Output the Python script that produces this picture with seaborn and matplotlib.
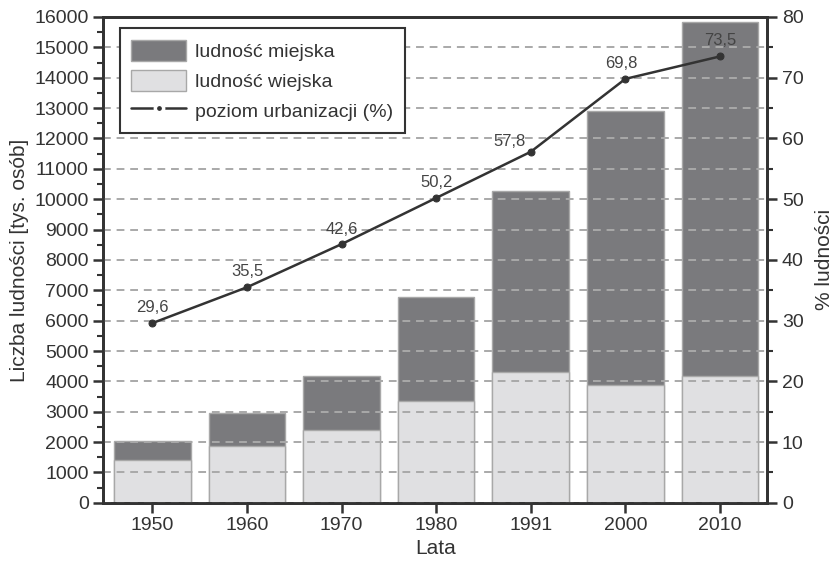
import numpy as np
import matplotlib
matplotlib.use("Agg")
import matplotlib.pyplot as plt
import seaborn as sns
from matplotlib.patches import Patch
from matplotlib.lines import Line2D
from matplotlib.ticker import MultipleLocator

# data
years = ["1950", "1960", "1970", "1980", "1991", "2000", "2010"]
rural = [1420, 1870, 2390, 3360, 4300, 3890, 4190]      # ludność wiejska
urban = [620, 1080, 1800, 3410, 5960, 9000, 11660]      # ludność miejska
urban_pct = [29.6, 35.5, 42.6, 50.2, 57.8, 69.8, 73.5]  # poziom urbanizacji

# label offsets (points) for the percentage annotations
label_offsets = [(0, 6), (0, 6), (0, 5), (0, 6), (-15, 2), (-3, 6), (0, 6)]

URBAN_COLOR = "#7a7a7d"
RURAL_COLOR = "#e0e0e2"
EDGE_COLOR = "#a8a8a8"
DARK = "#333333"

sns.set_theme(style="ticks")
plt.rcParams["font.family"] = ["Liberation Sans", "DejaVu Sans"]

total = [r + u for r, u in zip(rural, urban)]
x = np.arange(len(years))

fig = plt.figure(figsize=(8.33, 5.65), dpi=100)
ax = fig.add_axes([0.124, 0.110, 0.797, 0.860])

# stacked bars: total (urban on top) drawn first, rural drawn over it
sns.barplot(x=years, y=total, color=URBAN_COLOR, saturation=1, width=0.81,
            edgecolor=EDGE_COLOR, linewidth=1, ax=ax)
sns.barplot(x=years, y=rural, color=RURAL_COLOR, saturation=1, width=0.81,
            edgecolor=EDGE_COLOR, linewidth=1, ax=ax)

ax.set_xlim(-0.52, 6.5)
ax.set_ylim(0, 16000)
ax.yaxis.set_major_locator(MultipleLocator(1000))
ax.yaxis.set_minor_locator(MultipleLocator(500))
ax.set_axisbelow(False)
ax.grid(axis="y", which="major", color="#a9a9a9", linestyle=(0, (4, 3)), linewidth=1.4)
ax.set_xlabel("Lata", fontsize=15, color=DARK, labelpad=3)
ax.set_ylabel("Liczba ludności [tys. osób]", fontsize=15, color=DARK, labelpad=4)

# urbanization line on the right axis
ax2 = ax.twinx()
sns.lineplot(x=x, y=urban_pct, ax=ax2, color=DARK, linewidth=1.8,
             marker="o", markersize=5, markeredgecolor=DARK)
ax2.set_ylim(0, 80)
ax2.yaxis.set_major_locator(MultipleLocator(10))
ax2.yaxis.set_minor_locator(MultipleLocator(5))
ax2.set_ylabel("% ludności", fontsize=15, color=DARK, labelpad=8)
ax2.set_xlim(-0.52, 6.5)

for xi, val, off in zip(x, urban_pct, label_offsets):
    ax2.annotate(f"{val:.1f}".replace(".", ","), (xi, val), textcoords="offset points",
                 xytext=off, ha="center", va="bottom", fontsize=12, color="#444444")

for a in (ax, ax2):
    for side in ("left", "right", "top", "bottom"):
        a.spines[side].set_visible(True)
        a.spines[side].set_color(DARK)
        a.spines[side].set_linewidth(2)
    a.tick_params(which="major", length=7, width=1.8, color=DARK,
                  labelsize=14, labelcolor=DARK)
    a.tick_params(which="minor", length=4, width=1.5, color=DARK)

ax2.tick_params(axis="x", which="both", bottom=False, top=False)

handles = [
    Patch(facecolor=URBAN_COLOR, edgecolor=EDGE_COLOR, label="ludność miejska"),
    Patch(facecolor=RURAL_COLOR, edgecolor=EDGE_COLOR, label="ludność wiejska"),
    Line2D([0], [0], color=DARK, linewidth=1.8, marker="o", markersize=6,
           markerfacecolor=DARK, markeredgecolor="white", markeredgewidth=2.5,
           label="poziom urbanizacji (%)"),
]
leg = ax2.legend(handles=handles, loc="upper left", bbox_to_anchor=(0.01, 0.997),
                 fontsize=14, frameon=True, fancybox=False, framealpha=1,
                 edgecolor=DARK, handlelength=2.8, handleheight=1.3,
                 labelspacing=0.45, borderpad=0.6, handletextpad=0.5)
leg.get_frame().set_linewidth(1.5)
for t in leg.get_texts():
    t.set_color(DARK)

fig.savefig("out.png", dpi=100)
